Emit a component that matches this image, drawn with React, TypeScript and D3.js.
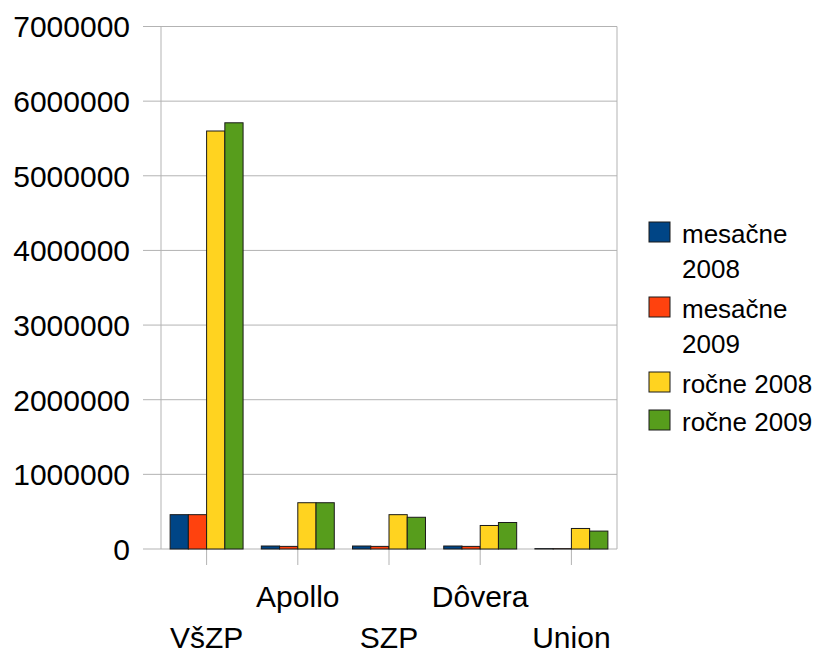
import { useEffect, useRef } from 'react';
import * as d3 from 'd3';

const categories = ['VšZP', 'Apollo', 'SZP', 'Dôvera', 'Union'];
const seriesNames = ['mesačne 2008', 'mesačne 2009', 'ročne 2008', 'ročne 2009'];
const legendLines = [['mesačne', '2008'], ['mesačne', '2009'], ['ročne 2008'], ['ročne 2009']];
const mesacne2008 = [460000, 40000, 40000, 40000, 5000];
const mesacne2009 = [460000, 35000, 35000, 35000, 5000];
const rocne2008 = [5600000, 620000, 460000, 315000, 275000];
const rocne2009 = [5710000, 620000, 425000, 355000, 240000];
const yTicks = [0, 1000000, 2000000, 3000000, 4000000, 5000000, 6000000, 7000000];
const colors = ['#004586', '#ff420e', '#ffd320', '#579d1c'];

const App = () => {
  const svgRef = useRef<SVGSVGElement>(null);

  useEffect(() => {
    if (!svgRef.current) return;
    const font = '"Liberation Sans", Arial, sans-serif';
    const left = 161;
    const right = 617;
    const top = 26.5;
    const bottom = 549;

    const values = [mesacne2008, mesacne2009, rocne2008, rocne2009];

    const svg = d3.select(svgRef.current);
    svg.selectAll('*').remove();

    const x = d3.scaleBand().domain(categories).range([left, right]);
    const xs = d3.scaleBand().domain(seriesNames).range([0, x.bandwidth()]).paddingOuter(0.5);
    const y = d3.scaleLinear().domain([0, 7000000]).range([bottom, top]);

    // gridlines
    svg.append('g')
      .selectAll('line')
      .data(yTicks)
      .enter()
      .append('line')
      .attr('x1', left - 18)
      .attr('x2', right)
      .attr('y1', d => y(d))
      .attr('y2', d => y(d))
      .attr('stroke', '#b3b3b3')
      .attr('stroke-width', 1);

    // axis & border
    svg.append('line')
      .attr('x1', left).attr('x2', left)
      .attr('y1', top).attr('y2', bottom)
      .attr('stroke', '#b3b3b3');
    svg.append('line')
      .attr('x1', right).attr('x2', right)
      .attr('y1', top).attr('y2', bottom)
      .attr('stroke', '#b3b3b3');

    // category ticks
    svg.append('g')
      .selectAll('line')
      .data(categories)
      .enter()
      .append('line')
      .attr('x1', d => x(d)! + x.bandwidth() / 2)
      .attr('x2', d => x(d)! + x.bandwidth() / 2)
      .attr('y1', bottom)
      .attr('y2', bottom + 16)
      .attr('stroke', '#b3b3b3');

    // y labels
    svg.append('g')
      .selectAll('text')
      .data(yTicks)
      .enter()
      .append('text')
      .attr('x', 130)
      .attr('y', d => y(d))
      .attr('dy', '0.36em')
      .attr('text-anchor', 'end')
      .style('font-family', font)
      .style('font-size', '30px')
      .style('fill', '#000')
      .text(d => String(d));

    // bars
    const groups = svg.append('g')
      .selectAll('g')
      .data(categories)
      .enter()
      .append('g')
      .attr('transform', d => `translate(${x(d)},0)`);

    groups.selectAll('rect')
      .data((_, i) => seriesNames.map((s, j) => ({ s, j, v: values[j][i] })))
      .enter()
      .append('rect')
      .attr('x', d => xs(d.s)!)
      .attr('width', xs.bandwidth())
      .attr('y', d => y(d.v))
      .attr('height', d => bottom - y(d.v))
      .attr('fill', d => colors[d.j])
      .attr('stroke', '#1a1a1a')
      .attr('stroke-width', 1);

    // category labels (staggered)
    svg.append('g')
      .selectAll('text')
      .data(categories)
      .enter()
      .append('text')
      .attr('x', d => x(d)! + x.bandwidth() / 2)
      .attr('y', (_, i) => (i % 2 === 0 ? 648 : 607))
      .attr('text-anchor', 'middle')
      .style('font-family', font)
      .style('font-size', '30px')
      .style('fill', '#000')
      .text(d => d);

    // legend
    const legendTops = [222, 297, 372, 410];
    const legend = svg.append('g')
      .selectAll('g')
      .data(seriesNames)
      .enter()
      .append('g')
      .attr('transform', (_, i) => `translate(649,${legendTops[i]})`);

    legend.append('rect')
      .attr('width', 21)
      .attr('height', 20)
      .attr('fill', (_, i) => colors[i])
      .attr('stroke', '#1a1a1a')
      .attr('stroke-width', 1);

    legend.append('text')
      .attr('x', 33)
      .attr('y', 21)
      .style('font-family', font)
      .style('font-size', '26px')
      .style('fill', '#000')
      .selectAll('tspan')
      .data((_, i) => legendLines[i])
      .enter()
      .append('tspan')
      .attr('x', 33)
      .attr('dy', (_, k) => (k === 0 ? 0 : 35))
      .text(d => d);
  }, []);

  return (
    <div style={{ position: 'absolute', left: 0, top: 0, background: '#fff' }}>
      <svg ref={svgRef} width={817} height={651} style={{ display: 'block' }}></svg>
    </div>
  );
};

export default App;
